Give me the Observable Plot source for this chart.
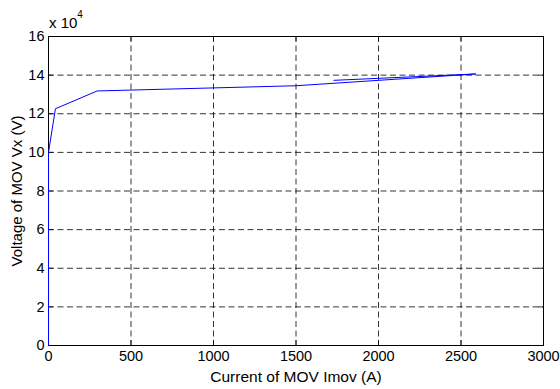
<!DOCTYPE html>
<html>
<head>
<meta charset="utf-8">
<script src="https://cdn.jsdelivr.net/npm/d3@7"></script>
<script src="https://cdn.jsdelivr.net/npm/@observablehq/plot@0.6"></script>
<style>
  html, body { margin: 0; padding: 0; background: #fff; }
</style>
</head>
<body>
<div id="wrap"></div>
<script>
// Current of MOV (A) and voltage of MOV (V)
const current = [0, 0, 42, 295, 1500, 2590, 1730];
const voltage = [0, 100000, 122600, 131800, 134500, 140600, 137300];
const xTicks = [0, 500, 1000, 1500, 2000, 2500, 3000];
const yTicks = [0, 2, 4, 6, 8, 10, 12, 14, 16]; // in units of 10^4 V

const data = current.map((c, i) => ({I: c, V: voltage[i] / 1e4}));
const tickLenX = 30;   // A
const tickLenY = 0.26; // 10^4 V
const FONT = "Liberation Sans, Arial, Helvetica, sans-serif";

const chart = Plot.plot({
  width: 560,
  height: 389,
  marginLeft: 48,
  marginRight: 17,
  marginTop: 36,
  marginBottom: 44,
  style: {fontFamily: FONT, fontSize: "14px", background: "#fff", color: "#000"},
  x: {domain: [0, 3000]},
  y: {domain: [0, 16]},
  marks: [
    Plot.ruleX(xTicks.slice(1, -1), {stroke: "#000", strokeWidth: 0.8, strokeDasharray: "6,3.5"}),
    Plot.ruleY(yTicks.slice(1, -1), {stroke: "#000", strokeWidth: 0.8, strokeDasharray: "6,3.5"}),
    Plot.ruleX(xTicks, {y1: 0, y2: tickLenY, stroke: "#000", strokeWidth: 0.8}),
    Plot.ruleX(xTicks, {y1: 16 - tickLenY, y2: 16, stroke: "#000", strokeWidth: 0.8}),
    Plot.ruleY(yTicks, {x1: 0, x2: tickLenX, stroke: "#000", strokeWidth: 0.8}),
    Plot.ruleY(yTicks, {x1: 3000 - tickLenX, x2: 3000, stroke: "#000", strokeWidth: 0.8}),
    Plot.frame({stroke: "#000", strokeWidth: 1}),
    Plot.line(data, {x: "I", y: "V", stroke: "#0000ff", strokeWidth: 1}),
    Plot.axisX(xTicks, {tickSize: 0, tickPadding: 5, label: null, fontSize: 14.5, tickFormat: d => String(d)}),
    Plot.axisY(yTicks, {tickSize: 0, tickPadding: 4, label: null, fontSize: 14.5, tickFormat: d => String(d)}),
    Plot.text(["Current of MOV Imov (A)"], {frameAnchor: "bottom", textAnchor: "middle", dy: 36, fontSize: 15.5}),
    Plot.text(["Voltage of MOV Vx (V)"], {frameAnchor: "left", textAnchor: "middle", dx: -31, rotate: -90, fontSize: 15})
  ]
});
document.getElementById("wrap").append(chart);

// exponent label "x 10^4" above the y axis
const svg = d3.select(chart);
const t = svg.append("text")
  .attr("x", 49).attr("y", 28)
  .attr("text-anchor", "start")
  .attr("font-family", FONT).attr("font-size", 15).attr("fill", "#000");
t.append("tspan").text("x 10");
t.append("tspan").attr("dy", -10).attr("font-size", 10).text("4");
</script>
</body>
</html>
